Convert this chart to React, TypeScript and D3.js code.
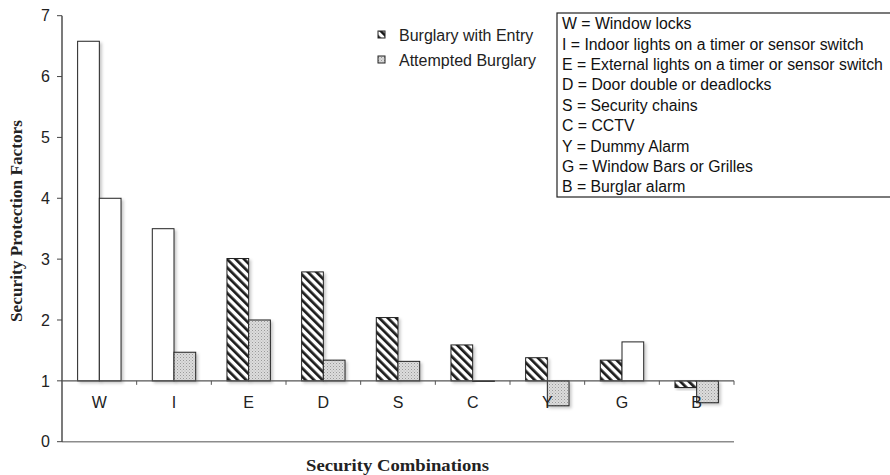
import React from "react";
import * as d3 from "d3";

const categories = ["W", "I", "E", "D", "S", "C", "Y", "G", "B"];
const entryValues = [6.58, 3.5, 3.01, 2.79, 2.04, 1.59, 1.38, 1.34, 0.89];
const attemptValues = [4.0, 1.47, 2.0, 1.34, 1.32, 0.99, 0.59, 1.64, 0.64];
const entryStyles = ["white", "white", "hatch", "hatch", "hatch", "hatch", "hatch", "hatch", "hatch"];
const attemptStyles = ["white", "stipple", "stipple", "stipple", "stipple", "stipple", "stipple", "white", "stipple"];
const seriesNames = ["Burglary with Entry", "Attempted Burglary"];
const yTicks = [0, 1, 2, 3, 4, 5, 6, 7];
const keyLines = [
  "W = Window locks",
  "I = Indoor lights on a timer or sensor switch",
  "E = External lights on a timer or sensor switch",
  "D = Door double or deadlocks",
  "S = Security chains",
  "C = CCTV",
  "Y = Dummy Alarm",
  "G = Window Bars or Grilles",
  "B = Burglar alarm",
];

const W = 890;
const H = 475;
const sans = "'Liberation Sans', Arial, sans-serif";
const serif = "'Liberation Serif', 'Times New Roman', serif";

export default function App() {
  const x0 = d3.scaleBand<string>().domain(categories).range([62, 734]).padding(0);
  const x1 = d3
    .scaleBand<string>()
    .domain(seriesNames)
    .range([0, x0.bandwidth()])
    .paddingInner(0)
    .paddingOuter(0.72);
  const y = d3.scaleLinear().domain([0, 7]).range([441.7, 15.7]);
  const base = y(1);

  const fillFor = (s: string) =>
    s === "hatch" ? "url(#hatch)" : s === "stipple" ? "url(#stipple)" : "#ffffff";

  const bars: { key: string; x: number; y: number; w: number; h: number; fill: string }[] = [];
  categories.forEach((c, i) => {
    [entryValues[i], attemptValues[i]].forEach((v, j) => {
      const yy = y(v);
      const style = j === 0 ? entryStyles[i] : attemptStyles[i];
      bars.push({
        key: c + j,
        x: (x0(c) as number) + (x1(seriesNames[j]) as number),
        y: Math.min(yy, base),
        w: x1.bandwidth(),
        h: Math.max(Math.abs(yy - base), 0.8),
        fill: fillFor(style),
      });
    });
  });

  const boundaries = categories.map((c) => (x0(c) as number) + x0.bandwidth());

  return (
    <svg
      width={W}
      height={H}
      style={{ position: "absolute", left: 0, top: 0, background: "#fff" }}
    >
      <defs>
        <pattern id="hatch" patternUnits="userSpaceOnUse" width="6" height="6" patternTransform="rotate(-45)">
          <rect width="6" height="6" fill="#fff" />
          <rect x="0" y="0" width="2.7" height="6" fill="#1a1a1a" />
        </pattern>
        <pattern id="stipple" patternUnits="userSpaceOnUse" width="3" height="3">
          <rect width="3" height="3" fill="#dcdcdc" />
          <rect x="0" y="0" width="1" height="1" fill="#9a9a9a" />
          <rect x="1.5" y="1.5" width="1" height="1" fill="#b0b0b0" />
        </pattern>
        <filter id="shadow" x="-20%" y="-20%" width="160%" height="160%">
          <feDropShadow dx="2" dy="2" stdDeviation="1.5" floodColor="#000" floodOpacity="0.22" />
        </filter>
        <filter id="gshadow" x="0" y="-50%" width="100%" height="400%">
          <feDropShadow dx="0" dy="1.5" stdDeviation="1" floodColor="#000" floodOpacity="0.12" />
        </filter>
      </defs>

      {/* gridlines */}
      {yTicks
        .filter((t) => t >= 2)
        .map((t) => (
          <line
            key={"g" + t}
            x1={62}
            x2={734}
            y1={y(t)}
            y2={y(t)}
            stroke="#c4c4c4"
            strokeWidth={1.4}
            filter="url(#gshadow)"
          />
        ))}
      <line x1={62} x2={734} y1={y(0)} y2={y(0)} stroke="#8c8c8c" strokeWidth={1.4} />

      {/* y axis */}
      <line x1={62} x2={62} y1={y(7)} y2={y(0)} stroke="#222" strokeWidth={1.2} />
      {yTicks.map((t) => (
        <g key={"yt" + t}>
          <line x1={57} x2={62} y1={y(t)} y2={y(t)} stroke="#444" strokeWidth={1} />
          <text
            x={50}
            y={y(t)}
            dy="0.36em"
            textAnchor="end"
            fontFamily={sans}
            fontSize={16}
            fill="#222"
          >
            {t}
          </text>
        </g>
      ))}

      {/* bars */}
      {bars.map((b) => (
        <rect
          key={b.key}
          x={b.x}
          y={b.y}
          width={b.w}
          height={b.h}
          fill={b.fill}
          stroke="#222"
          strokeWidth={1}
          filter="url(#shadow)"
        />
      ))}

      {/* category axis at 1 */}
      <line x1={62} x2={734} y1={base} y2={base} stroke="#555" strokeWidth={1.3} />
      {boundaries.map((bx, i) => (
        <line key={"xt" + i} x1={bx} x2={bx} y1={base} y2={base + 4} stroke="#555" strokeWidth={1} />
      ))}
      {categories.map((c) => (
        <text
          key={"xl" + c}
          x={(x0(c) as number) + x0.bandwidth() / 2}
          y={402}
          dy="0.36em"
          textAnchor="middle"
          fontFamily={sans}
          fontSize={16}
          fill="#222"
        >
          {c}
        </text>
      ))}

      {/* axis titles */}
      <text
        transform={`translate(16,221) rotate(-90)`}
        textAnchor="middle"
        dy="0.35em"
        fontFamily={serif}
        fontWeight="bold"
        fontSize={17.5}
        textLength={202}
        lengthAdjust="spacingAndGlyphs"
        fill="#222"
      >
        Security Protection Factors
      </text>
      <text
        x={397.5}
        y={470.5}
        textAnchor="middle"
        fontFamily={serif}
        fontWeight="bold"
        fontSize={17.5}
        textLength={183}
        lengthAdjust="spacingAndGlyphs"
        fill="#222"
      >
        Security Combinations
      </text>

      {/* series legend */}
      {seriesNames.map((s, i) => (
        <g key={"lg" + s}>
          <rect
            x={378}
            y={31 + i * 25}
            width={7}
            height={7}
            fill={i === 0 ? "url(#hatch)" : "url(#stipple)"}
            stroke="#222"
            strokeWidth={1}
          />
          <text
            x={399}
            y={35 + i * 25}
            dy="0.36em"
            fontFamily={sans}
            fontSize={16}
            fill="#222"
          >
            {s}
          </text>
        </g>
      ))}

      {/* abbreviation key box */}
      <rect x={557} y={13} width={340} height={184} fill="#fff" stroke="#222" strokeWidth={1.2} />
      {keyLines.map((l, i) => (
        <text
          key={"k" + i}
          x={562}
          y={23.5 + i * 20.4}
          dy="0.36em"
          fontFamily={sans}
          fontSize={15.8}
          fill="#111"
        >
          {l}
        </text>
      ))}
    </svg>
  );
}
